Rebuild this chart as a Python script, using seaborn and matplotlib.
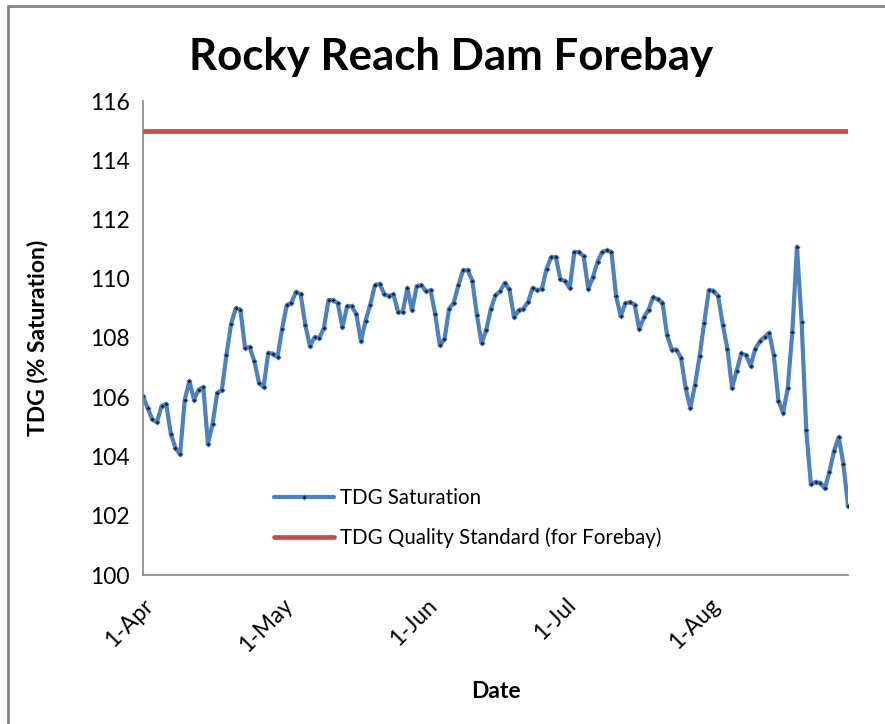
import pandas as pd
import seaborn as sns
import matplotlib
matplotlib.use("Agg")
from matplotlib import pyplot as plt
from matplotlib.patches import Rectangle

# daily TDG saturation readings, 1-Apr .. 31-Aug
apr = [106.03, 105.64, 105.25, 105.16, 105.70, 105.78, 104.76, 104.29, 104.07, 105.92,
       106.54, 105.92, 106.26, 106.34, 104.43, 105.10, 106.15, 106.24, 107.44, 108.48,
       109.00, 108.96, 107.67, 107.69, 107.22, 106.49, 106.34, 107.50, 107.47, 107.35]
may = [108.32, 109.11, 109.19, 109.56, 109.47, 108.43, 107.72, 108.03, 107.99, 108.34,
       109.28, 109.28, 109.17, 108.36, 109.07, 109.07, 108.80, 107.89, 108.59, 109.13,
       109.78, 109.83, 109.49, 109.41, 109.47, 108.88, 108.88, 109.69, 108.93, 109.75,
       109.78]
jun = [109.58, 109.61, 108.80, 107.76, 107.95, 108.99, 109.19, 109.78, 110.28, 110.29,
       109.94, 108.76, 107.82, 108.26, 108.99, 109.44, 109.58, 109.86, 109.64, 108.70,
       108.93, 108.99, 109.21, 109.69, 109.61, 109.66, 110.33, 110.73, 110.73, 109.98]
jul = [109.92, 109.69, 110.90, 110.90, 110.76, 109.66, 110.05, 110.57, 110.90, 110.96,
       110.90, 109.41, 108.74, 109.17, 109.21, 109.13, 108.29, 108.70, 108.96, 109.38,
       109.30, 109.19, 108.09, 107.61, 107.61, 107.33, 106.30, 105.64, 106.40, 107.38,
       108.51]
aug = [109.61, 109.60, 109.41, 108.45, 107.64, 106.32, 106.90, 107.48, 107.42, 107.07,
       107.63, 107.89, 108.03, 108.18, 107.42, 105.89, 105.47, 106.30, 108.21, 111.08,
       108.55, 104.88, 103.07, 103.14, 103.11, 102.92, 103.48, 104.20, 104.65, 103.75,
       102.34]
standard = 115

tick_dates = ["2012-04-01", "2012-05-01", "2012-06-01", "2012-07-01", "2012-08-01"]
tick_labels = ["1-Apr", "1-May", "1-Jun", "1-Jul", "1-Aug"]

tdg = apr + may + jun + jul + aug
dates = pd.date_range("2012-04-01", periods=len(tdg), freq="D")
df = pd.DataFrame({"Date": dates, "TDG": tdg, "Standard": standard})

sns.set_style("white")
plt.rcParams['font.family'] = ['Lato', 'DejaVu Sans']
plt.rcParams['text.color'] = 'black'
plt.rcParams['axes.labelcolor'] = 'black'

fig = plt.figure(figsize=(8.85, 7.24), dpi=100)
ax = fig.add_axes([143 / 885, 1 - 575 / 724, 705 / 885, 474 / 724])

blue = "#4F81BD"
red = "#C0504D"
gray = "#868686"

sns.lineplot(data=df, x="Date", y="TDG", ax=ax, color=blue, linewidth=3.0,
             marker="D", markersize=2.6, markerfacecolor="#10243f",
             markeredgecolor=blue, markeredgewidth=0.6, label="TDG Saturation")
sns.lineplot(data=df, x="Date", y="Standard", ax=ax, color=red, linewidth=3.4,
             label="TDG Quality Standard (for Forebay)")

ax.set_xlim(dates[0], dates[-1])
ax.set_ylim(100, 116)
ax.set_yticks(range(100, 117, 2))
ax.set_xticks(pd.to_datetime(tick_dates))
ax.set_xticklabels(tick_labels, rotation=45, ha="right", rotation_mode="anchor")
ax.tick_params(axis="both", labelsize=16.5, labelcolor="black", length=6,
               width=1.2, direction="out", color=gray)
ax.tick_params(axis="x", pad=8)

for side in ["top", "right"]:
    ax.spines[side].set_visible(False)
for side in ["left", "bottom"]:
    ax.spines[side].set_color(gray)
    ax.spines[side].set_linewidth(1.2)

fig.text(451 / 885, 1 - 57 / 724, "Rocky Reach Dam Forebay", fontsize=31.5,
         fontweight="bold", ha="center", va="center", color="black")
ax.set_xlabel("Date", fontsize=16.5, fontweight="bold", labelpad=18)
ax.set_ylabel("TDG (% Saturation)", fontsize=16.5, fontweight="bold", labelpad=30)

ax.legend(loc="center left", bbox_to_anchor=(0.16, 0.12), frameon=False,
          fontsize=14.8, handlelength=2.9, handletextpad=0.3, labelspacing=0.95)

# chart area frame
fig.patches.append(Rectangle((8 / 885, -0.1), 1.2, 1 - 6 / 724 + 0.1,
                             transform=fig.transFigure, fill=False,
                             edgecolor=gray, linewidth=2))

fig.savefig("out.png", dpi=100)
